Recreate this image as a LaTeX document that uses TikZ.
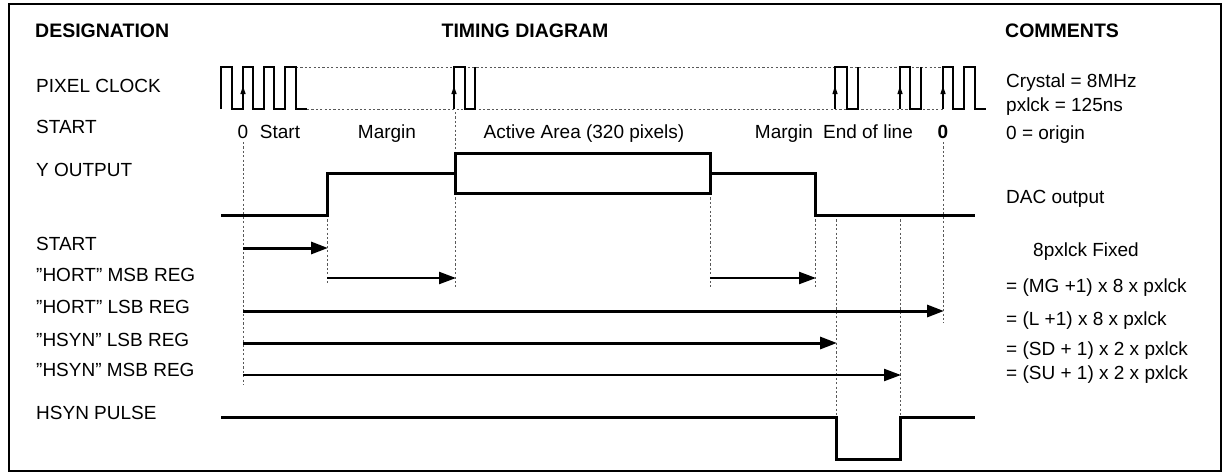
\documentclass[tikz,border=0pt]{standalone}
\usepackage{fontspec}
\setmainfont{Liberation Sans}
\usetikzlibrary{arrows.meta}
\begin{document}
\begin{tikzpicture}[x=1pt,y=-1pt,
  lbl/.style={anchor=base west,inner sep=0pt,font=\fontsize{19}{22}\selectfont},
  clbl/.style={anchor=base,inner sep=0pt,font=\fontsize{19}{22}\selectfont},
  hdr/.style={inner sep=0pt,font=\fontsize{19.5}{22}\selectfont\bfseries},
  wave/.style={line width=3pt,line join=miter},
  clk/.style={line width=2.8pt},
  guide/.style={draw=black!65,line width=1pt,dash pattern=on 2.2pt off 2.2pt},
  thickarr/.style={line width=3pt,-{Triangle[length=17pt,width=12pt]}},
  thinarr/.style={line width=2.2pt,-{Triangle[length=17pt,width=12pt]}},
  clkarr/.style={line width=1.2pt,-{Triangle[length=8pt,width=5pt]}}
]
\useasboundingbox (0,0) rectangle (1230,474);
\draw[line width=1.8pt] (9,4) rectangle (1221,471);

% headers
\node[hdr,anchor=base west] (hdes) at (35,37) {DESIGNATION};
\node[hdr,anchor=base] (htim) at (525,37) {TIMING DIAGRAM};
\node[hdr,anchor=base west] (hcom) at (1005,37) {COMMENTS};

% left labels
\node[lbl] (lpix) at (36,92) {PIXEL CLOCK};
\node[lbl] (lst1) at (36,133) {START};
\node[lbl] (ly) at (36,176) {Y OUTPUT};
\node[lbl] (lst2) at (36,250) {START};
\node[lbl] (lhm) at (36,281) {"HORT" MSB REG};
\node[lbl] (lhl) at (36,313) {"HORT" LSB REG};
\node[lbl] (lsl) at (36,346) {"HSYN" LSB REG};
\node[lbl] (lsm) at (36,376) {"HSYN" MSB REG};
\node[lbl] (lpul) at (36,419) {HSYN PULSE};

% comments
\node[lbl] (c1) at (1006,87) {Crystal = 8MHz};
\node[lbl] (c2) at (1006,111) {pxlck = 125ns};
\node[lbl] (c3) at (1006,139) {0 = origin};
\node[lbl] (c4) at (1006,203) {DAC output};
\node[lbl] (c5) at (1033,256) {8pxlck Fixed};
\node[lbl] (c6) at (1006,292) {= (MG +1) x 8 x pxlck};
\node[lbl] (c7) at (1006,325) {= (L +1) x 8 x pxlck};
\node[lbl] (c8) at (1006,355) {= (SD + 1) x 2 x pxlck};
\node[lbl] (c9) at (1006,379) {= (SU + 1) x 2 x pxlck};

% start row labels
\node[clbl] (t0) at (243,138) {0};
\node[clbl] (tstart) at (280,138) {Start};
\node[clbl] (tm1) at (387,138) {Margin};
\node[clbl] (tact) at (584,138) {Active Area (320 pixels)};
\node[clbl] (tm2) at (784,138) {Margin};
\node[clbl] (teol) at (868,138) {End of line};
\node[clbl,font=\fontsize{19}{22}\selectfont\bfseries] (t0b) at (943,138) {0};

% clock dotted rails
\draw[guide] (296,67) -- (943,67);
\draw[guide] (307,109) -- (943,109);
% clock waveform
\draw[clk] (221,109) -- (221,67) -- (232,67) -- (232,109) -- (243,109) -- (243,67) -- (253,67) -- (253,109) -- (264,109) -- (264,67) -- (274,67) -- (274,109) -- (285,109) -- (285,67) -- (296,67) -- (296,109) -- (307,109);
\draw[clk] (454,109) -- (454,67) -- (465,67) -- (465,109) -- (475,109) -- (475,67);
\draw[clk] (835,109) -- (835,67) -- (847,67) -- (847,109) -- (858,109) -- (858,67);
\draw[clk] (900,109) -- (900,67) -- (910,67) -- (910,109) -- (921,109) -- (921,67);
\draw[clk] (943,109) -- (943,67) -- (953,67) -- (953,109) -- (964,109) -- (964,67) -- (975,67) -- (975,109) -- (986,109);
\foreach \cx in {243,454,835,900,943}
  \draw[clkarr] (\cx,100) -- (\cx,86);

% guide verticals
\coordinate (g0a) at (243,142);
\coordinate (g0b) at (243,385);
\draw[guide] (g0a) -- (g0b);
\draw[guide] (327,215) -- (327,285);
\draw[guide] (455,112) -- (455,153);
\draw[guide] (455,193) -- (455,287);
\draw[guide] (710,193) -- (710,287);
\draw[guide] (815,215) -- (815,287);
\draw[guide] (836,215) -- (836,417);
\draw[guide] (900,215) -- (900,417);
\draw[guide] (943,142) -- (943,323);

% Y output
\draw[wave] (221,215) -- (327,215) -- (327,173) -- (455,173);
\draw[wave] (455,153) rectangle (710,193);
\draw[wave] (710,173) -- (815,173) -- (815,215) -- (975,215);

% register arrows
\coordinate (aS) at (243,248); \coordinate (aE) at (328,248);
\draw[thickarr] (aS) -- (aE);
\coordinate (m1s) at (327,278); \coordinate (m1e) at (456,278);
\draw[thinarr] (m1s) -- (m1e);
\coordinate (m2s) at (710,278); \coordinate (m2e) at (816,278);
\draw[thinarr] (m2s) -- (m2e);
\coordinate (lls) at (243,311); \coordinate (lle) at (944,311);
\draw[thickarr] (lls) -- (lle);
\coordinate (sls) at (243,343); \coordinate (sle) at (837,343);
\draw[thickarr] (sls) -- (sle);
\coordinate (sms) at (243,375); \coordinate (sme) at (901,375);
\draw[thinarr] (sms) -- (sme);

% HSYN pulse
\draw[wave] (221,417) -- (836,417) -- (836,459) -- (900,459) -- (900,417) -- (975,417);
\end{tikzpicture}
\end{document}
